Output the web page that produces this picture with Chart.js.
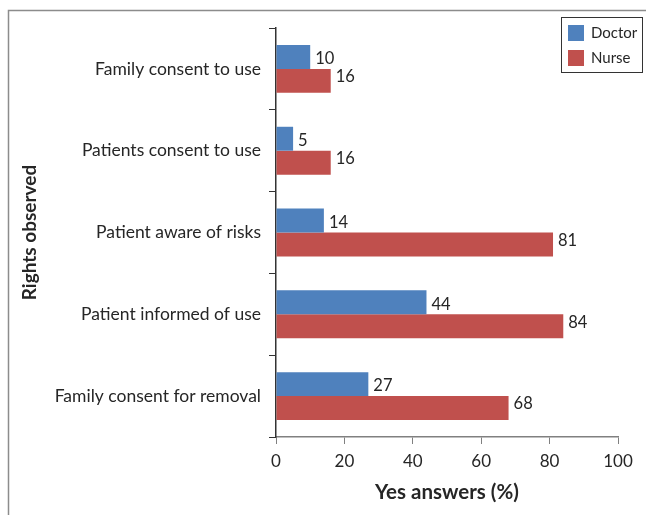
<!DOCTYPE html>
<html>
<head>
<meta charset="utf-8">
<title>Rights observed</title>
<script src="https://cdn.jsdelivr.net/npm/chart.js@4"></script>
<style>
  html, body { margin: 0; padding: 0; background: #fff; }
  #wrap { position: relative; width: 646px; height: 515px; }
</style>
</head>
<body>
<div id="wrap"><canvas id="rightsChart" width="646" height="515"></canvas></div>
<script>
/* ── Data ───────────────────────────────────────────────────── */

const categories = [
  "Family consent to use",
  "Patients consent to use",
  "Patient aware of risks",
  "Patient informed of use",
  "Family consent for removal",
];
const doctorYes = [10, 5, 14, 44, 27];
const nurseYes  = [16, 16, 81, 84, 68];
const xTicks    = [0, 20, 40, 60, 80, 100];

const BLUE = "#4F81BD";
const RED  = "#C0504D";
const FONT = "Lato, 'Open Sans', sans-serif";
const TXT  = "#262626";

/* ── Plugins ────────────────────────────────────────────────── */

// Thin grey frame along the top and left edge
const framePlugin = {
  id: "frame",
  beforeDraw(chart) {
    const ctx = chart.ctx;
    ctx.save();
    ctx.strokeStyle = "#8c8c8c";
    ctx.lineWidth = 1.5;
    ctx.beginPath();
    ctx.moveTo(8.5, 515);
    ctx.lineTo(8.5, 10.5);
    ctx.lineTo(646, 10.5);
    ctx.stroke();
    ctx.restore();
  },
};

// Value printed just past the end of each bar
const valueLabels = {
  id: "valueLabels",
  afterDatasetsDraw(chart) {
    const ctx = chart.ctx;
    ctx.save();
    ctx.font = "16.5px " + FONT;
    ctx.fillStyle = TXT;
    ctx.textBaseline = "middle";
    chart.data.datasets.forEach((ds, i) => {
      const meta = chart.getDatasetMeta(i);
      meta.data.forEach((bar, j) => {
        const dy = i === 0 ? 2 : -4;
        ctx.fillText(String(ds.data[j]), bar.x + 5, bar.y + dy);
      });
    });
    ctx.restore();
  },
};

// Boxed legend in the top-right corner
const boxLegend = {
  id: "boxLegend",
  afterDraw(chart) {
    const ctx = chart.ctx;
    const x = 561, y = 17;
    ctx.save();
    ctx.strokeStyle = "#333";
    ctx.lineWidth = 1;
    ctx.strokeRect(x + 0.5, y + 0.5, 81, 55);
    ctx.font = "15px " + FONT;
    ctx.textBaseline = "middle";
    chart.data.datasets.forEach((ds, i) => {
      const rowY = y + 8 + i * 25;
      ctx.fillStyle = ds.backgroundColor;
      ctx.fillRect(x + 7, rowY, 16, 16);
      ctx.fillStyle = TXT;
      ctx.fillText(ds.label, x + 30, rowY + 8);
    });
    ctx.restore();
  },
};

/* ── Chart ──────────────────────────────────────────────────── */

new Chart(document.getElementById("rightsChart"), {
  type: "bar",
  data: {
    labels: categories,
    datasets: [
      { label: "Doctor", data: doctorYes, backgroundColor: BLUE },
      { label: "Nurse",  data: nurseYes,  backgroundColor: RED },
    ],
  },
  options: {
    indexAxis: "y",
    responsive: false,
    animation: false,
    categoryPercentage: 0.585,
    barPercentage: 1,
    layout: { padding: { top: 28, right: 28, left: 0, bottom: 0 } },
    plugins: {
      legend: { display: false },
      tooltip: { enabled: false },
    },
    scales: {
      x: {
        min: 0,
        max: 100,
        afterBuildTicks: (scale) => { scale.ticks = xTicks.map(v => ({ value: v })); },
        afterFit: (scale) => { scale.height = 78; },
        ticks: { color: TXT, font: { family: FONT, size: 17 }, padding: 7 },
        grid: { drawOnChartArea: false, drawTicks: true, tickLength: 7, color: "#808080" },
        border: { color: "#808080", width: 1.5 },
        title: {
          display: true,
          text: "Yes answers (%)",
          color: TXT,
          font: { family: FONT, size: 20.5, weight: "bold" },
          padding: { top: 0, bottom: 10 },
        },
      },
      y: {
        afterFit: (scale) => { scale.width = 276; },
        ticks: { color: TXT, font: { family: FONT, size: 17.5 }, padding: 8 },
        grid: { offset: true, drawOnChartArea: false, drawTicks: true, tickLength: 7, color: "#333" },
        border: { color: "#333", width: 1.5 },
        title: {
          display: true,
          text: "Rights observed",
          color: TXT,
          font: { family: FONT, size: 19, weight: "bold" },
          padding: { top: 18, bottom: 0 },
        },
      },
    },
  },
  plugins: [framePlugin, valueLabels, boxLegend],
});
</script>
</body>
</html>
